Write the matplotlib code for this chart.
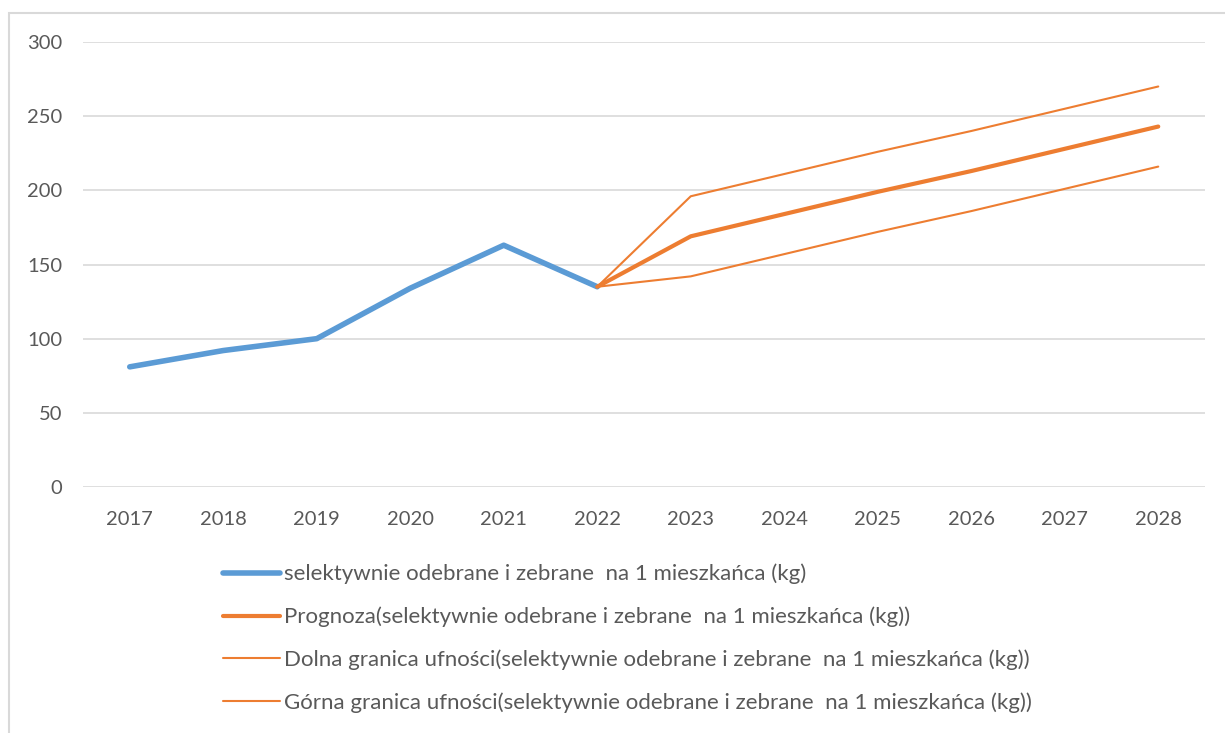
import matplotlib
matplotlib.use("Agg")
import matplotlib.pyplot as plt
from matplotlib.patches import Rectangle

years = ["2017", "2018", "2019", "2020", "2021", "2022", "2023", "2024", "2025", "2026", "2027", "2028"]
actual = [81, 92, 100, 134, 163, 135]
forecast = [135, 169, 184, 199, 213, 228, 243]
lower = [135, 142, 157, 172, 186, 201, 216]
upper = [135, 196, 211, 226, 240, 255, 270]
yticks = [0, 50, 100, 150, 200, 250, 300]

labels = [
    "selektywnie odebrane i zebrane  na 1 mieszkańca (kg)",
    "Prognoza(selektywnie odebrane i zebrane  na 1 mieszkańca (kg))",
    "Dolna granica ufności(selektywnie odebrane i zebrane  na 1 mieszkańca (kg))",
    "Górna granica ufności(selektywnie odebrane i zebrane  na 1 mieszkańca (kg))",
]

plt.rcParams['font.family'] = ['Lato', 'DejaVu Sans']
BLUE = "#5B9BD5"
ORANGE = "#ED7D31"
TXT = "#595959"
GRID = "#D9D9D9"

W, H = 1225, 733
fig = plt.figure(figsize=(W / 100, H / 100), dpi=100)
ax = fig.add_axes([83 / W, 1 - 487 / H, (1205 - 83) / W, (487 - 42) / H])

x_all = list(range(len(years)))
x_act = x_all[:len(actual)]
x_fc = x_all[len(actual) - 1:]

l1, = ax.plot(x_act, actual, color=BLUE, lw=4.0, solid_capstyle='round', solid_joinstyle='round', zorder=3)
l2, = ax.plot(x_fc, forecast, color=ORANGE, lw=3.0, solid_capstyle='round', solid_joinstyle='round', zorder=4)
l3, = ax.plot(x_fc, lower, color=ORANGE, lw=1.5, solid_capstyle='round', zorder=4)
l4, = ax.plot(x_fc, upper, color=ORANGE, lw=1.5, solid_capstyle='round', zorder=4)

ax.set_xlim(-0.5, len(years) - 0.5)
ax.set_ylim(0, 300)
ax.set_yticks(yticks)
ax.set_xticks(x_all)
ax.set_xticklabels(years)
ax.grid(axis='y', color=GRID, lw=1.2)
ax.set_axisbelow(True)
for s in ax.spines.values():
    s.set_visible(False)
ax.tick_params(length=0, labelsize=14.5, labelcolor=TXT)
ax.tick_params(axis='y', pad=15)
ax.tick_params(axis='x', pad=17)

leg = fig.legend([l1, l2, l3, l4], labels, loc='upper left',
                 bbox_to_anchor=(214 / W, 1 - 555 / H), frameon=False,
                 fontsize=16, labelcolor=TXT, handlelength=2.55, handletextpad=0.2,
                 labelspacing=1.0, borderaxespad=0)

fig.patches.append(Rectangle((8.5 / W, -0.1), 1.2, 1 - 12.5 / H + 0.1, transform=fig.transFigure,
                             fill=False, edgecolor=GRID, lw=1.5, zorder=0))

fig.savefig("out.png", dpi=100, facecolor="white")
